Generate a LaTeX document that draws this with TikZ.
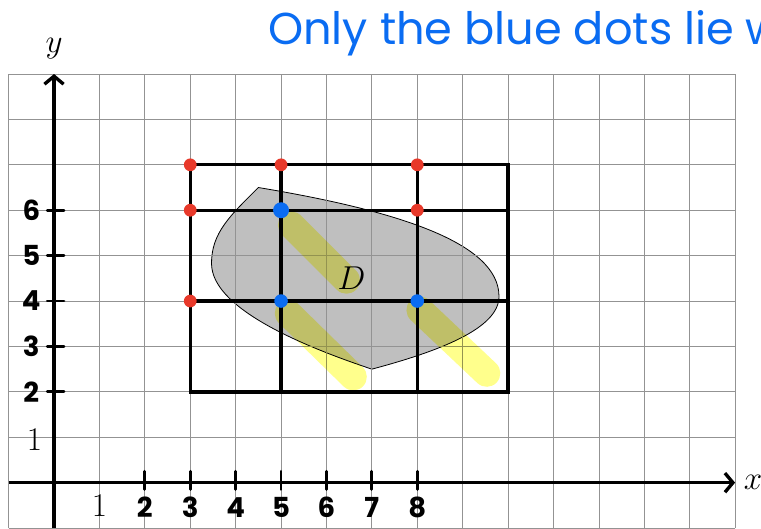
\documentclass[tikz,border=0pt]{standalone}
\usepackage{fontspec}
\newfontfamily\handfont{Poppins}
\usetikzlibrary{arrows.meta, positioning}
\definecolor{penblue}{HTML}{0A6CF2}
\definecolor{penred}{HTML}{E8392A}
\definecolor{marker}{HTML}{FFFF8C}

\begin{document}
\begin{tikzpicture}[>={Straight Barb[length=5pt,width=12pt]},
    gridline/.style={draw=gray!85, line width=0.5pt},
    axis/.style={draw, ->, line width=2.1pt},
    frameline/.style={draw, line width=2.1pt},
    tickmark/.style={draw, line width=1.8pt, line cap=round},
    region/.style={fill=gray!50, draw=black, line width=0.5pt},
    highlight/.style={draw=marker, line width=17pt, line cap=round, blend mode=multiply},
    reddot/.style={circle, fill=penred, inner sep=0pt, minimum size=8pt},
    bluedot/.style={circle, fill=penblue, inner sep=0pt, minimum size=8.5pt},
    handnum/.style={font=\handfont\bfseries\LARGE},
    mathlabel/.style={font=\huge}]

    \useasboundingbox (-1.19,-1.0) rectangle (15.57,10.63);

    % the region D, then the paper grid on top of it
    \path[region] (4.5,6.5) .. controls (7.5,6.0) and (9.8,5.3) .. (9.8,4.1)
        .. controls (9.8,3.4) and (8.5,2.9) .. (7,2.5)
        .. controls (5.2,3.1) and (3.5,3.9) .. (3.47,4.8)
        .. controls (3.45,5.5) and (3.9,5.9) .. (4.5,6.5) -- cycle;
    \draw[gridline] (-1,-1) grid (15,9);

    % marker strokes
    \coordinate (hlA) at (5.23,5.67);
    \coordinate (hlB) at (6.44,4.46);
    \coordinate (hlC) at (5.16,3.73);
    \coordinate (hlD) at (6.59,2.33);
    \coordinate (hlE) at (8.06,3.80);
    \coordinate (hlF) at (9.53,2.41);
    \path[highlight] (hlA) -- (hlB);
    \path[highlight] (hlC) -- (hlD);
    \path[highlight] (hlE) -- (hlF);

    % axes
    \coordinate (xstart) at (-1,0);
    \coordinate (xend) at (15,0);
    \coordinate (ystart) at (0,-1);
    \coordinate (yend) at (0,9);
    \path[axis] (xstart) -- (xend);
    \path[axis] (ystart) -- (yend);
    \node[mathlabel, right=2pt of xend] (xlab) {$x$};
    \node[mathlabel] (ylab) at (0,9.55) {$y$};
    \node[mathlabel] (xone) at (1,-0.5) {1};
    \node[mathlabel] (yone) at (-0.43,0.94) {1};

    \foreach \k in {2,...,8} {
        \path[tickmark] (\k,-0.15) -- (\k,0.25);
        \node[handnum] (xn\k) at (\k,-0.55) {\k};
    }
    \foreach \k in {2,...,6} {
        \path[tickmark] (-0.15,\k) -- (0.22,\k);
        \node[handnum] (yn\k) at (-0.5,\k) {\k};
    }

    % the rectangle and its lines
    \draw[frameline] (3,2) rectangle (10,7);
    \draw[frameline] (3,6) -- (10,6);
    \draw[frameline] (3,4) -- (10,4);
    \draw[frameline] (5,2) -- (5,7);
    \draw[frameline] (8,2) -- (8,7);

    \node[mathlabel] (dlab) at (6.55,4.5) {$D$};

    % lattice points
    \node[reddot] (r37) at (3,7) {};
    \node[reddot] (r57) at (5,7) {};
    \node[reddot] (r87) at (8,7) {};
    \node[reddot] (r36) at (3,6) {};
    \node[reddot] (r86) at (8,6) {};
    \node[reddot] (r34) at (3,4) {};
    \node[bluedot, minimum size=10pt] (b56) at (5,6) {};
    \node[bluedot] (b54) at (5,4) {};
    \node[bluedot] (b84) at (8,4) {};

    \node[anchor=base west, text=penblue, inner sep=0pt,
        font=\handfont\fontsize{28}{28}\selectfont] (title) at (4.71,9.64)
        {Only the blue dots lie w};
\end{tikzpicture}
\end{document}
